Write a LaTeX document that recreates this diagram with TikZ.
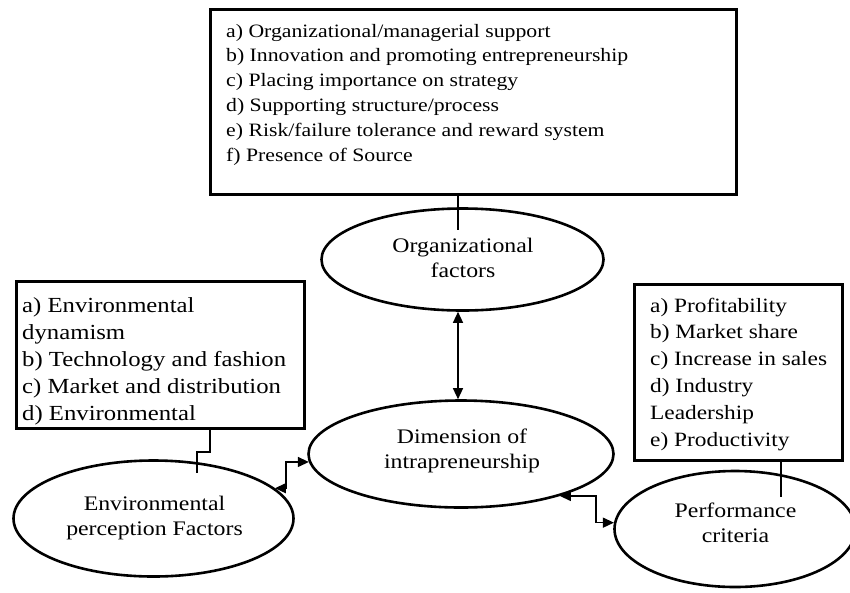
\documentclass[tikz,border=0pt]{standalone}
\usepackage{fontspec}
\setmainfont{Liberation Serif}[FakeStretch=1.15]
\usetikzlibrary{shapes.geometric,arrows.meta,calc}
\begin{document}
\begin{tikzpicture}[x=1pt,y=-1pt,
  boxst/.style={draw,line width=3pt,inner sep=0pt},
  ellst/.style={draw,ellipse,line width=2.6pt,inner sep=0pt},
  elltxt/.style={inner sep=0pt,align=center,font=\fontsize{20.7}{25}\selectfont},
  txt/.style={anchor=base west,inner sep=0pt,align=left},
  conn/.style={line width=1.3pt},
  dbl/.style={line width=1.3pt,{Triangle[length=11pt,width=10pt]}-{Triangle[length=11pt,width=10pt]}}]
\useasboundingbox (0,0) rectangle (850,592);
\fill[white] (0,0) rectangle (850,592);

% boxes
\node[boxst,minimum width=526pt,minimum height=185pt] (orgbox) at (473.5,102) {};
\node[txt,font=\fontsize{18.9}{24.8}\selectfont] (orgtxt) at (226,161)
 {a) Organizational/managerial support\\
  b) Innovation and promoting entrepreneurship\\
  c) Placing importance on strategy\\
  d) Supporting structure/process\\
  e) Risk/failure tolerance and reward system\\
  f) Presence of Source};

\node[boxst,minimum width=288pt,minimum height=147pt] (envbox) at (160.5,355) {};
\node[txt,font=\fontsize{21.5}{27}\selectfont] (envtxt) at (22,420)
 {a) Environmental\\
  dynamism\\
  b) Technology and fashion\\
  c) Market and distribution\\
  d) Environmental};

\node[boxst,minimum width=208pt,minimum height=176pt] (perfbox) at (738.5,372.5) {};
\node[txt,font=\fontsize{20.3}{26.8}\selectfont] (perftxt) at (650,446)
 {a) Profitability\\
  b) Market share\\
  c) Increase in sales\\
  d) Industry\\
  Leadership\\
  e) Productivity};

% ellipses
\node[ellst,minimum width=282pt,minimum height=102pt] (org) at (462.5,259.5) {};
\node[elltxt] (orglbl) at (463,258) {Organizational\\factors};

\node[ellst,minimum width=305pt,minimum height=107pt] (dim) at (461,454) {};
\node[elltxt] (dimlbl) at (462,451) {Dimension of\\intrapreneurship};

\node[ellst,minimum width=280pt,minimum height=116pt] (env) at (153.5,518.5) {};
\node[elltxt] (envlbl) at (154.5,518) {Environmental\\perception Factors};

\node[ellst,minimum width=241pt,minimum height=116pt] (perf) at (735,529) {};
\node[elltxt] (perflbl) at (735.5,523) {Performance\\criteria};

% connectors
\coordinate (topend) at (458,230);
\draw[conn] (orgbox.south -| topend) -- (topend);

\coordinate (lbend) at (210,452);
\coordinate (lend) at (197,473);
\draw[conn] (envbox.south -| lbend) -- (lbend) -| (lend);

\coordinate (rend) at (781,497);
\draw[conn] (perfbox.south -| rend) -- (rend);

\coordinate (vx) at (458,0);
\draw[dbl] (org.south -| vx) -- (dim.north -| vx);

\coordinate (lbx) at (286,0);
\draw[dbl] (env.14) -- (env.14 -| lbx) |- (dim.183);

\coordinate (rbx) at (596,0);
\draw[dbl] (dim.337) -- (dim.337 -| rbx) |- (perf.177);
\end{tikzpicture}
\end{document}
